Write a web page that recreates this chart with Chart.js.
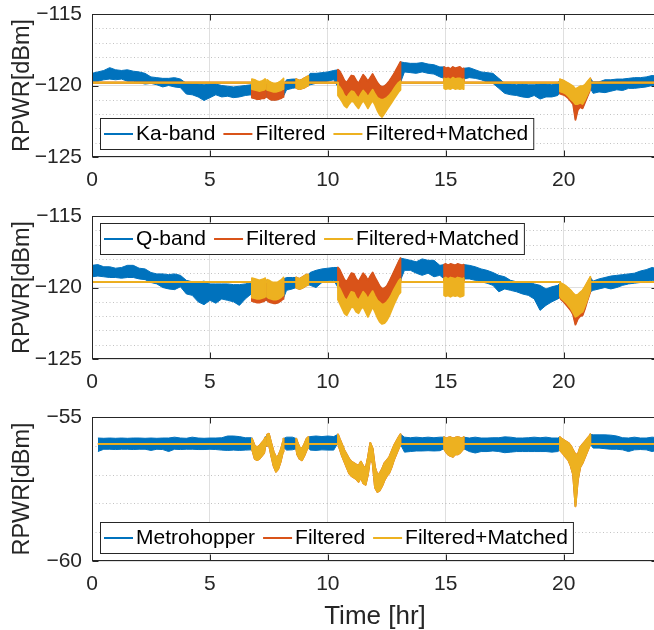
<!DOCTYPE html>
<html>
<head>
<meta charset="utf-8">
<title>RPWR</title>
<script src="https://cdn.jsdelivr.net/npm/chart.js@4.4.1/dist/chart.umd.min.js"></script>
<style>
  html, body { margin: 0; padding: 0; background: #ffffff; width: 654px; height: 630px; overflow: hidden; }
  canvas { position: absolute; left: 0; }
</style>
</head>
<body>
<canvas id="kaChart" width="662" height="205" style="top:0px"></canvas>
<canvas id="qChart" width="662" height="205" style="top:200px"></canvas>
<canvas id="metroChart" width="662" height="240" style="top:400px"></canvas>
<script>
// ---------------------------------------------------------------------------
// Received power over one day. The raw traces are stored as noise envelopes
// (upper / lower edge of the noisy trace) on a quarter-hour grid. Inside the
// rain events the raw trace equals the filtered trace, so those grid entries
// are null and the event arrays supply the values.
// ---------------------------------------------------------------------------

const hours = [
  0, 0.25, 0.5, 0.75, 1, 1.25, 1.5, 1.75, 2, 2.25, 2.5, 2.75, 3, 3.25, 3.5, 3.75,
  4, 4.25, 4.5, 4.75, 5, 5.25, 5.5, 5.75, 6, 6.25, 6.5, 6.75, 7, 7.25, 7.5, 7.75,
  8, 8.25, 8.5, 8.75, 9, 9.25, 9.5, 9.75, 10, 10.25, 10.5, 10.75, 11, 11.25, 11.5, 11.75,
  12, 12.25, 12.5, 12.75, 13, 13.25, 13.5, 13.75, 14, 14.25, 14.5, 14.75, 15, 15.25, 15.5, 15.75,
  16, 16.25, 16.5, 16.75, 17, 17.25, 17.5, 17.75, 18, 18.25, 18.5, 18.75, 19, 19.25, 19.5, 19.75,
  20, 20.25, 20.5, 20.75, 21, 21.25, 21.5, 21.75, 22, 22.25, 22.5, 22.75, 23, 23.25, 23.5, 23.75,
  24
];

// rain events (hours) kept by the filter
const eventHours = [
  [6.78, 6.9, 7.0, 7.1, 7.2, 7.3, 7.34],
  [7.42, 7.5, 7.6, 7.7, 7.8, 7.9, 8.0, 8.1, 8.12],
  [8.66, 8.7, 8.8, 8.9, 9.0, 9.1, 9.17],
  [10.43, 10.5, 10.6, 10.7, 10.8, 10.9, 11.0, 11.1, 11.2, 11.3, 11.4, 11.5, 11.6, 11.7,
   11.8, 11.9, 12.0, 12.1, 12.2, 12.3, 12.4, 12.5, 12.6, 12.7, 12.8, 12.9, 13.0, 13.08],
  [14.93, 15.0, 15.1, 15.2, 15.3, 15.4, 15.5, 15.6, 15.7, 15.76],
  [19.84, 19.9, 20.0, 20.1, 20.2, 20.3, 20.4, 20.5, 20.6, 20.7, 20.8, 20.9, 21.0, 21.1, 21.13]
];

// ----------------------------- Ka-band -------------------------------------
const kaLegend = ['Ka-band', 'Filtered', 'Filtered+Matched'];
const kaLevel = -119.8;
const kaUpper = [
  -119.15, -119.05, -118.95, -118.75, -118.9, -118.95, -118.9, -119.0,
  -119.05, -119.15, -119.4, -119.45, -119.5, -119.5, -119.45, -119.55,
  -119.85, -119.9, -119.9, -119.95, -119.9, -119.9, -120.0, -120.05,
  -120.1, -120.05, -120.0, -119.95, null, null, null, null,
  null, -119.6, -119.55, null, null, -119.15, -119.15, -119.1,
  -119.05, -118.95, null, null, null, null, null, null,
  null, null, null, null, null, -118.4, -118.45, -118.45,
  -118.4, -118.5, -118.55, -118.7, null, null, null, null,
  -118.75, -118.9, -119.05, -119.1, -119.15, -119.5, -119.85, -119.9,
  -119.95, -119.9, -119.95, -119.95, -119.9, -119.9, -119.95, -119.85,
  null, null, null, null, null, -119.75, -119.75, -119.6,
  -119.6, -119.55, -119.55, -119.5, -119.45, -119.45, -119.4, -119.3,
  -119.35
];
const kaLower = [
  -119.7, -119.7, -119.6, -119.55, -119.6, -119.55, -119.7, -119.7,
  -119.8, -119.9, -119.85, -119.95, -120.1, -120.0, -120.1, -120.15,
  -120.6, -120.65, -120.8, -121.05, -120.85, -120.65, -120.8, -120.75,
  -120.85, -120.8, -120.7, -120.65, null, null, null, null,
  null, -120.3, -120.2, null, null, -119.95, -119.85, -119.75,
  -119.7, -119.6, null, null, null, null, null, null,
  null, null, null, null, null, -119.05, -119.1, -119.15,
  -119.05, -119.15, -119.2, -119.4, null, null, null, null,
  -119.45, -119.5, -119.6, -119.75, -119.85, -120.2, -120.55, -120.65,
  -120.7, -120.8, -120.85, -120.7, -120.95, -120.8, -120.8, -120.7,
  null, null, null, null, null, -120.55, -120.45, -120.5,
  -120.4, -120.3, -120.35, -120.2, -120.2, -120.15, -120.1, -120.0,
  -120.05
];
const kaFilteredUpper = [
  [-120.0, -120.05, -120.1, -120.15, -120.1, -120.05, -120.0],
  [-120.0, -120.1, -120.2, -120.25, -120.25, -120.2, -120.1, -120.0, -119.95],
  [-119.55, -119.6, -119.65, -119.6, -119.5, -119.4, -119.35],
  [-118.9, -119.0, -119.3, -119.65, -119.8, -119.55, -119.3, -119.35, -119.65, -119.85, -119.55, -119.25, -119.45, -119.7,
   -119.45, -119.2, -119.5, -119.8, -120.0, -120.1, -120.05, -119.9, -119.7, -119.45, -119.2, -118.9, -118.6, -118.35],
  [-118.7, -118.8, -118.75, -118.85, -118.7, -118.8, -118.75, -118.7, -118.85, -118.8],
  [-119.6, -119.6, -119.7, -119.8, -119.9, -120.0, -120.1, -120.3, -120.2, -120.1, -120.1, -120.0, -119.8, -119.6, -119.5]
];
const kaFilteredLower = [
  [-120.85, -120.9, -120.95, -120.95, -120.9, -120.9, -120.85],
  [-120.8, -120.9, -121.0, -121.0, -121.0, -120.95, -120.9, -120.8, -120.75],
  [-120.15, -120.2, -120.25, -120.2, -120.15, -120.05, -120.0],
  [-120.1, -120.2, -120.45, -120.8, -120.95, -120.7, -120.5, -120.55, -120.8, -121.0, -120.7, -120.45, -120.65, -120.9,
   -120.65, -120.4, -120.7, -120.95, -121.05, -121.1, -121.05, -120.95, -120.8, -120.6, -120.35, -120.1, -119.9, -119.8],
  [-119.5, -119.55, -119.5, -119.6, -119.45, -119.55, -119.5, -119.55, -119.6, -119.55],
  [-120.55, -120.6, -120.65, -120.75, -120.9, -121.1, -121.3, -122.4, -121.7, -121.5, -121.6, -121.2, -120.8, -120.4, -120.2]
];
const kaMatchedUpper = [
  [-119.55, -119.6, -119.7, -119.75, -119.7, -119.6, -119.55],
  [-119.6, -119.7, -119.8, -119.85, -119.85, -119.8, -119.7, -119.55, -119.5],
  [-119.55, -119.6, -119.65, -119.6, -119.5, -119.4, -119.35],
  [-120.0, -120.1, -120.35, -120.7, -120.85, -120.6, -120.4, -120.45, -120.7, -120.9, -120.6, -120.35, -120.55, -120.8,
   -120.55, -120.3, -120.6, -120.85, -120.95, -121.0, -120.95, -120.85, -120.7, -120.5, -120.25, -120.0, -119.8, -119.7],
  [-119.5, -119.55, -119.5, -119.6, -119.45, -119.55, -119.5, -119.5, -119.6, -119.55],
  [-119.55, -119.6, -119.65, -119.75, -119.85, -119.95, -120.05, -120.25, -120.15, -120.05, -120.05, -119.95, -119.75, -119.55, -119.5]
];
const kaMatchedLower = [
  [-120.25, -120.3, -120.35, -120.4, -120.35, -120.3, -120.25],
  [-120.3, -120.35, -120.4, -120.45, -120.45, -120.4, -120.35, -120.25, -120.2],
  [-120.15, -120.2, -120.25, -120.2, -120.15, -120.05, -120.0],
  [-120.7, -120.85, -121.1, -121.4, -121.55, -121.3, -121.1, -121.15, -121.4, -121.6, -121.3, -121.05, -121.3, -121.6,
   -121.3, -121.05, -121.35, -121.75, -122.05, -122.2, -121.95, -121.7, -121.45, -121.2, -120.95, -120.7, -120.45, -120.3],
  [-120.2, -120.25, -120.2, -120.25, -120.15, -120.25, -120.2, -120.25, -120.2, -120.25],
  [-120.4, -120.45, -120.5, -120.6, -120.75, -120.95, -121.1, -121.3, -121.3, -121.2, -121.3, -121.0, -120.65, -120.3, -120.1]
];

// ----------------------------- Q-band --------------------------------------
const qLegend = ['Q-band', 'Filtered', 'Filtered+Matched'];
const qLevel = -119.6;
const qUpper = [
  -118.45, -118.4, -118.55, -118.55, -118.65, -118.6, -118.45, -118.45,
  -118.65, -118.7, -118.95, -119.05, -119.05, -119.1, -119.05, -119.15,
  -119.5, -119.6, -119.65, -119.55, -119.75, -119.75, -119.75, -119.75,
  -119.8, -119.8, -119.75, -119.65, null, null, null, null,
  null, -119.3, -119.3, null, null, -118.95, -118.8, -118.7,
  -118.65, -118.6, null, null, null, null, null, null,
  null, null, null, null, null, -118.0, -118.1, -118.2,
  -118.0, -118.1, -118.1, -118.45, null, null, null, null,
  -118.45, -118.55, -118.7, -118.8, -118.95, -119.15, -119.25, -119.5,
  -119.6, -119.65, -119.6, -119.75, -119.85, -120.1, -119.95, -119.85,
  null, null, null, null, null, -119.55, -119.4, -119.3,
  -119.2, -119.15, -119.1, -119.05, -119.0, -118.85, -118.75, -118.6,
  -118.7
];
const qLower = [
  -119.25, -119.2, -119.25, -119.3, -119.3, -119.35, -119.3, -119.3,
  -119.4, -119.45, -119.65, -119.75, -120.0, -120.1, -120.15, -119.95,
  -120.45, -120.55, -121.0, -121.2, -120.9, -121.1, -120.8, -120.9,
  -121.0, -121.25, -120.8, -120.45, null, null, null, null,
  null, -120.2, -120.1, null, null, -119.85, -120.0, -119.65,
  -119.55, -119.5, null, null, null, null, null, null,
  null, null, null, null, null, -118.8, -118.8, -119.0,
  -119.15, -119.0, -119.25, -119.15, null, null, null, null,
  -119.4, -119.5, -119.6, -119.7, -119.85, -120.3, -120.1, -120.2,
  -120.3, -120.45, -120.55, -120.8, -121.6, -121.25, -121.0, -120.8,
  null, null, null, null, null, -120.2, -120.1, -120.0,
  -120.1, -120.0, -119.85, -119.75, -119.7, -119.65, -119.6, -119.5,
  -119.5
];
const qFilteredUpper = [
  [-119.5, -119.55, -119.6, -119.65, -119.6, -119.55, -119.5],
  [-119.55, -119.6, -119.7, -119.75, -119.75, -119.7, -119.6, -119.45, -119.4],
  [-119.3, -119.35, -119.4, -119.3, -119.2, -119.1, -119.1],
  [-118.6, -118.75, -119.1, -119.45, -119.6, -119.3, -119.0, -119.05, -119.4, -119.6, -119.3, -119.0, -119.2, -119.5,
   -119.2, -118.95, -119.3, -119.6, -119.9, -120.1, -120.05, -119.9, -119.6, -119.25, -118.9, -118.55, -118.2, -117.95],
  [-118.4, -118.35, -118.45, -118.35, -118.4, -118.45, -118.35, -118.4, -118.45, -118.4],
  [-119.7, -119.75, -119.85, -119.95, -120.1, -120.25, -120.45, -120.6, -120.55, -120.4, -120.25, -120.0, -119.7, -119.4, -119.3]
];
const qFilteredLower = [
  [-120.95, -121.0, -121.05, -121.05, -121.0, -120.95, -120.9],
  [-120.9, -121.0, -121.05, -121.1, -121.1, -121.05, -120.95, -120.8, -120.75],
  [-120.0, -120.05, -120.1, -120.05, -119.95, -119.85, -119.8],
  [-120.0, -120.15, -120.5, -120.85, -121.0, -120.7, -120.4, -120.45, -120.8, -121.0, -120.7, -120.4, -120.6, -120.9,
   -120.6, -120.35, -120.7, -121.0, -121.15, -121.3, -121.25, -121.1, -120.9, -120.6, -120.25, -119.95, -119.65, -119.5],
  [-119.4, -119.45, -119.45, -119.4, -119.4, -119.45, -119.4, -119.4, -119.45, -119.4],
  [-120.7, -120.85, -121.0, -121.2, -121.4, -121.6, -121.9, -122.6, -122.2, -122.0, -121.95, -121.5, -120.95, -120.45, -120.3]
];
const qMatchedUpper = [
  [-119.35, -119.4, -119.45, -119.5, -119.45, -119.4, -119.35],
  [-119.45, -119.5, -119.6, -119.65, -119.65, -119.6, -119.5, -119.35, -119.3],
  [-119.3, -119.35, -119.4, -119.3, -119.2, -119.1, -119.1],
  [-119.9, -120.05, -120.4, -120.75, -120.9, -120.6, -120.3, -120.35, -120.7, -120.9, -120.6, -120.3, -120.5, -120.8,
   -120.5, -120.25, -120.6, -120.9, -121.05, -121.2, -121.15, -121.0, -120.8, -120.5, -120.15, -119.85, -119.55, -119.4],
  [-119.35, -119.3, -119.4, -119.3, -119.35, -119.4, -119.3, -119.35, -119.4, -119.35],
  [-119.65, -119.7, -119.8, -119.9, -120.05, -120.2, -120.4, -120.55, -120.5, -120.35, -120.2, -119.95, -119.65, -119.35, -119.25]
];
const qMatchedLower = [
  [-120.7, -120.75, -120.8, -120.8, -120.75, -120.7, -120.65],
  [-120.65, -120.75, -120.8, -120.85, -120.85, -120.8, -120.7, -120.55, -120.5],
  [-120.0, -120.05, -120.1, -120.05, -119.95, -119.85, -119.8],
  [-120.85, -121.1, -121.45, -121.8, -121.95, -121.65, -121.35, -121.4, -121.7, -121.8, -121.5, -121.35, -121.7, -122.05,
   -121.7, -121.35, -121.7, -122.1, -122.4, -122.55, -122.5, -122.3, -122.0, -121.6, -121.2, -120.85, -120.5, -120.35],
  [-120.55, -120.6, -120.55, -120.65, -120.55, -120.6, -120.55, -120.65, -120.6, -120.55],
  [-120.6, -120.75, -120.9, -121.05, -121.25, -121.45, -121.75, -122.05, -121.95, -121.8, -121.7, -121.3, -120.85, -120.35, -120.2]
];

// ----------------------------- Metrohopper ---------------------------------
const metroLegend = ['Metrohopper', 'Filtered', 'Filtered+Matched'];
const metroLevel = -55.93;
const metroUpper = [
  null, -55.73, -55.74, -55.73, -55.74, -55.73, -55.74, -55.73,
  -55.73, -55.74, -55.73, -55.74, -55.73, -55.73, -55.7, -55.73,
  -55.74, -55.7, -55.73, -55.74, -55.73, -55.73, -55.72, -55.66,
  -55.66, -55.68, -55.72, -55.72, null, null, null, null,
  null, -55.7, -55.7, null, null, -55.68, -55.66, -55.68,
  -55.66, -55.68, null, null, null, null, null, null,
  null, null, null, null, null, -55.7, -55.72, -55.7,
  -55.72, -55.7, -55.72, -55.7, null, null, null, null,
  -55.73, -55.7, -55.73, -55.73, -55.72, -55.72, -55.69, -55.7,
  -55.73, -55.73, -55.72, -55.7, -55.72, -55.7, -55.73, -55.73,
  null, null, null, null, null, -55.62, -55.62, -55.62,
  -55.63, -55.66, -55.72, -55.73, -55.7, -55.73, -55.73, -55.7,
  -55.72
];
const metroLower = [
  null, -56.2, -56.12, -56.12, -56.13, -56.12, -56.12, -56.13,
  -56.12, -56.12, -56.16, -56.12, -56.13, -56.2, -56.12, -56.13,
  -56.12, -56.12, -56.13, -56.13, -56.12, -56.13, -56.15, -56.16,
  -56.15, -56.16, -56.15, -56.14, null, null, null, null,
  null, -56.15, -56.14, null, null, -56.15, -56.16, -56.14,
  -56.15, -56.15, null, null, null, null, null, null,
  null, null, null, null, null, -56.22, -56.2, -56.18,
  -56.18, -56.17, -56.18, -56.17, null, null, null, null,
  -56.2, -56.25, -56.2, -56.2, -56.18, -56.2, -56.24, -56.22,
  -56.2, -56.2, -56.2, -56.2, -56.2, -56.2, -56.22, -56.2,
  null, null, null, null, null, -56.08, -56.08, -56.1,
  -56.12, -56.12, -56.14, -56.2, -56.14, -56.13, -56.14, -56.2,
  -56.15
];
const metroMatchedUpper = [
  [-55.75, -56.0, -56.05, -56.0, -55.9, -55.8, -55.72],
  [-55.62, -55.58, -55.9, -56.2, -56.4, -56.35, -56.15, -55.85, -55.75],
  [-55.75, -55.85, -56.05, -56.1, -55.95, -55.75, -55.7],
  [-55.6, -55.75, -55.95, -56.15, -56.3, -56.45, -56.55, -56.6, -56.65, -56.7, -56.55, -56.7, -56.8, -56.4,
   -55.9, -56.1, -56.75, -57.0, -56.95, -56.8, -56.6, -56.5, -56.4, -56.2, -56.0, -55.85, -55.7, -55.6],
  [-55.7, -55.75, -55.72, -55.7, -55.75, -55.72, -55.7, -55.72, -55.75, -55.7],
  [-55.7, -55.75, -55.8, -55.85, -55.9, -56.0, -56.15, -56.3, -56.3, -56.05, -55.95, -55.85, -55.75, -55.65, -55.6]
];
const metroMatchedLower = [
  [-56.1, -56.45, -56.5, -56.45, -56.35, -56.25, -56.05],
  [-56.0, -55.95, -56.35, -56.7, -56.9, -56.8, -56.55, -56.2, -56.05],
  [-56.1, -56.3, -56.45, -56.5, -56.35, -56.15, -56.05],
  [-55.9, -56.1, -56.35, -56.55, -56.75, -56.95, -57.05, -57.1, -57.15, -57.25, -57.1, -57.3, -57.35, -57.0,
   -56.4, -56.6, -57.45, -57.6, -57.55, -57.4, -57.2, -57.05, -56.95, -56.75, -56.5, -56.3, -56.1, -55.95],
  [-56.1, -56.2, -56.3, -56.35, -56.38, -56.3, -56.3, -56.25, -56.15, -56.1],
  [-56.15, -56.2, -56.3, -56.4, -56.5, -56.7, -57.0, -58.1, -57.2, -56.75, -56.6, -56.4, -56.2, -56.0, -55.95]
];
// the Metrohopper link needs no level matching: filtered and matched coincide
const metroFilteredUpper = metroMatchedUpper;
const metroFilteredLower = metroMatchedLower;

// ------------------------------- drawing -----------------------------------
const FONT = "'Liberation Sans', Arial, Helvetica, sans-serif";
const INK = '#262626';
const GRID = 'rgba(38,38,38,0.15)';
const MINOR = 'rgba(38,38,38,0.28)';
const BLUE = '#0072BD', ORANGE = '#D95319', YELLOW = '#EDB120';
const SERIES_COLORS = [BLUE, ORANGE, YELLOW];

Chart.defaults.font.family = FONT;

function minusLabel(v) {
  return v < 0 ? '\u2212' + Math.abs(v) : String(v);
}

// raw envelope: grid points outside events plus the event samples
function rawEnvelope(gridVals, eventVals) {
  const pts = [];
  hours.forEach((h, i) => { if (gridVals[i] !== null) pts.push({ x: h, y: gridVals[i] }); });
  eventHours.forEach((ev, k) => ev.forEach((h, j) => pts.push({ x: h, y: eventVals[k][j] })));
  return pts.sort((a, b) => a.x - b.x);
}

// filtered envelope: constant clear-sky level between the events
function filteredEnvelope(level, start, end, eventVals) {
  const pts = [{ x: start, y: level }];
  eventHours.forEach((ev, k) => {
    pts.push({ x: ev[0], y: level });
    ev.forEach((h, j) => pts.push({ x: h, y: eventVals[k][j] }));
    pts.push({ x: ev[ev.length - 1], y: level });
  });
  pts.push({ x: end, y: level });
  return pts;
}

function edge(data, color, width, fillToPrevious) {
  return {
    data,
    borderColor: color,
    backgroundColor: color,
    borderWidth: width,
    borderJoinStyle: 'round',
    pointRadius: 0,
    pointHoverRadius: 0,
    tension: 0,
    fill: fillToPrevious ? '-1' : false
  };
}

const matlabAxes = {
  id: 'matlabAxes',
  beforeDatasetsDraw(chart) {
    const { ctx, chartArea: a, scales: { y } } = chart;
    ctx.save();
    ctx.strokeStyle = MINOR;
    ctx.lineWidth = 1;
    ctx.setLineDash([1, 2.5]);
    for (let v = Math.ceil(y.min); v <= y.max; v++) {
      if (v % 5 === 0) continue;
      const py = Math.round(y.getPixelForValue(v)) + 0.5;
      ctx.beginPath();
      ctx.moveTo(a.left, py);
      ctx.lineTo(a.right, py);
      ctx.stroke();
    }
    ctx.restore();
  },
  afterDatasetsDraw(chart, args, opts) {
    const { ctx, chartArea: a, scales: { x, y } } = chart;
    ctx.save();
    // axes box with inward ticks
    const L = Math.round(a.left) + 0.5, R = Math.round(a.right) - 0.5;
    const T = Math.round(a.top) + 0.5, B = Math.round(a.bottom) - 0.5;
    ctx.strokeStyle = INK;
    ctx.lineWidth = 1;
    ctx.strokeRect(L, T, R - L, B - T);
    ctx.beginPath();
    x.ticks.forEach(t => {
      const px = Math.round(x.getPixelForValue(t.value)) + 0.5;
      ctx.moveTo(px, B); ctx.lineTo(px, B - 6);
      ctx.moveTo(px, T); ctx.lineTo(px, T + 6);
    });
    y.ticks.forEach(t => {
      const py = Math.round(y.getPixelForValue(t.value)) + 0.5;
      ctx.moveTo(L, py); ctx.lineTo(L + 6, py);
      ctx.moveTo(R, py); ctx.lineTo(R - 6, py);
    });
    ctx.stroke();

    // legend box inside the axes
    const names = opts.names;
    ctx.font = '21px ' + FONT;
    const widths = names.map(n => ctx.measureText(n).width);
    const boxW = 4 + widths.reduce((s, w) => s + 32 + w + 8, 0) - 8 + 5;
    const boxH = 31;
    const bx = Math.round(a.left) + 8;
    const by = opts.corner === 'nw' ? Math.round(a.top) + 7 : Math.round(a.bottom) - 8 - boxH;
    ctx.fillStyle = '#ffffff';
    ctx.fillRect(bx, by, boxW, boxH);
    ctx.strokeStyle = INK;
    ctx.strokeRect(bx + 0.5, by + 0.5, boxW, boxH);
    let cx = bx + 4;
    const cy = by + boxH / 2 + 0.5;
    names.forEach((n, i) => {
      ctx.strokeStyle = SERIES_COLORS[i];
      ctx.lineWidth = 2;
      ctx.beginPath();
      ctx.moveTo(cx, cy);
      ctx.lineTo(cx + 29, cy);
      ctx.stroke();
      ctx.fillStyle = '#000000';
      ctx.textAlign = 'left';
      ctx.textBaseline = 'middle';
      ctx.fillText(n, cx + 32, cy + 0.5);
      cx += 32 + widths[i] + 8;
    });
    ctx.restore();
  }
};

function drawPanel(id, p) {
  const firstIdx = p.upper.findIndex(v => v !== null);
  const start = hours[firstIdx];
  const end = hours[hours.length - 1];
  const datasets = [
    edge(filteredEnvelope(p.level, start, end, p.matchedUpper), YELLOW, 1.8, false),
    edge(filteredEnvelope(p.level, start, end, p.matchedLower), YELLOW, 1.8, true),
    edge(filteredEnvelope(p.level, start, end, p.filteredUpper), ORANGE, 1.8, false),
    edge(filteredEnvelope(p.level, start, end, p.filteredLower), ORANGE, 1.8, true),
    edge(rawEnvelope(p.upper, p.filteredUpper), BLUE, 1, false),
    edge(rawEnvelope(p.lower, p.filteredLower), BLUE, 1, true)
  ];
  return new Chart(document.getElementById(id), {
    type: 'line',
    data: { datasets },
    plugins: [matlabAxes],
    options: {
      responsive: false,
      animation: false,
      events: [],
      layout: { padding: { top: p.padTop, right: 4, left: 0, bottom: 0 } },
      plugins: {
        legend: { display: false },
        tooltip: { enabled: false },
        matlabAxes: { names: p.legend, corner: p.corner }
      },
      scales: {
        x: {
          type: 'linear',
          min: 0,
          max: 24,
          afterFit: s => { s.height = p.xHeight; },
          ticks: {
            stepSize: 5, includeBounds: false, autoSkip: false, maxRotation: 0,
            padding: 11, color: INK, font: { family: FONT, size: 21 },
            callback: v => minusLabel(v)
          },
          grid: { color: GRID, lineWidth: 1, drawTicks: false },
          border: { display: false },
          title: p.xTitle
            ? { display: true, text: p.xTitle, color: INK, font: { family: FONT, size: 26 }, padding: { top: 0, bottom: 8 } }
            : { display: false }
        },
        y: {
          type: 'linear',
          min: p.yMin,
          max: p.yMax,
          afterFit: s => { s.width = 92; },
          ticks: {
            stepSize: 5, padding: 0, color: INK, font: { family: FONT, size: 21 },
            callback: v => minusLabel(v)
          },
          // invisible tick marks hold the labels 10px off the axis
          grid: { color: GRID, lineWidth: 1, drawTicks: true, tickLength: 10, tickColor: 'rgba(0,0,0,0)' },
          border: { display: false },
          title: {
            display: true, text: 'RPWR[dBm]', color: INK,
            font: { family: FONT, size: 23.5 }, padding: { top: 8, bottom: 0 }
          }
        }
      }
    }
  });
}

drawPanel('kaChart', {
  legend: kaLegend, corner: 'sw', level: kaLevel, yMin: -125, yMax: -115,
  padTop: 14, xHeight: 48,
  upper: kaUpper, lower: kaLower,
  filteredUpper: kaFilteredUpper, filteredLower: kaFilteredLower,
  matchedUpper: kaMatchedUpper, matchedLower: kaMatchedLower
});
drawPanel('qChart', {
  legend: qLegend, corner: 'nw', level: qLevel, yMin: -125, yMax: -115,
  padTop: 16, xHeight: 46,
  upper: qUpper, lower: qLower,
  filteredUpper: qFilteredUpper, filteredLower: qFilteredLower,
  matchedUpper: qMatchedUpper, matchedLower: qMatchedLower
});
drawPanel('metroChart', {
  legend: metroLegend, corner: 'sw', level: metroLevel, yMin: -60, yMax: -55,
  padTop: 17, xHeight: 79, xTitle: 'Time [hr]',
  upper: metroUpper, lower: metroLower,
  filteredUpper: metroFilteredUpper, filteredLower: metroFilteredLower,
  matchedUpper: metroMatchedUpper, matchedLower: metroMatchedLower
});
</script>
</body>
</html>
